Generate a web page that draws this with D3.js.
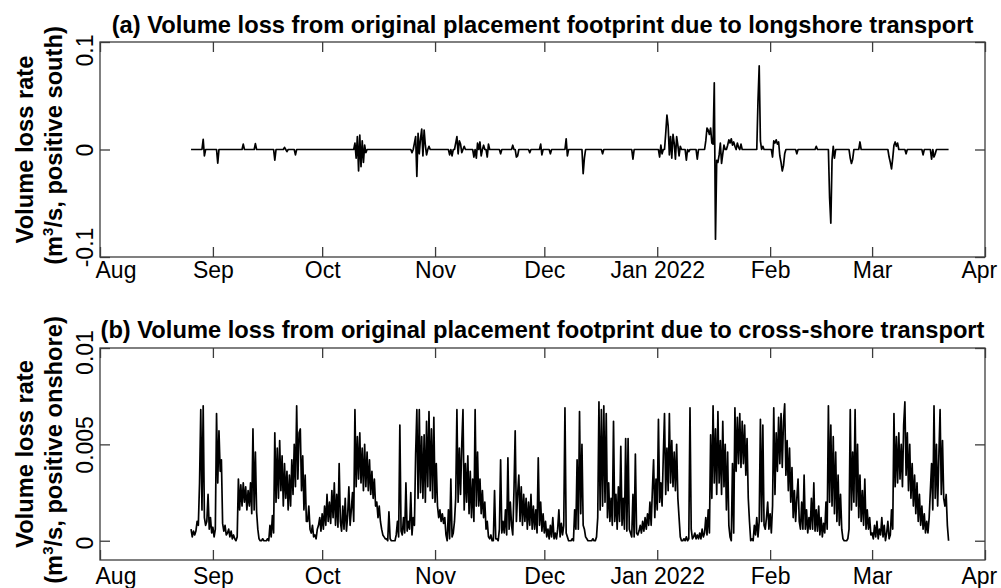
<!DOCTYPE html>
<html>
<head>
<meta charset="utf-8">
<script src="https://cdn.jsdelivr.net/npm/d3@7"></script>
<style>
  body { margin: 0; background: #fff; }
  svg { display: block; }
  text { font-family: "Liberation Sans", Arial, Helvetica, sans-serif; fill: #000; }
</style>
</head>
<body>
<svg id="chart" width="1001" height="588"></svg>
<script>
// ---------------------------------------------------------------------------
// Data
// ---------------------------------------------------------------------------
// Both records are sampled every 8 hours starting 26 Aug 2021 00:00 UTC.
const seriesStart = Date.UTC(2021, 7, 26, 0);
const stepHours = 8;

// Cross-shore volume loss rate, in units of 0.001 m^3/s (positive onshore),
// three samples per day.
const crossShore = [
  0.6,0.2,0.5, 0.3,0.5,1.0, 0.8,3.0,6.8, 1.6,7.0,1.2, 0.8,1.0,2.4, 0.6,1.2,0.4,
  0.7,0.2,0.6, 6.6,3.0,5.7, 3.6,4.2,0.9, 0.5,0.8,0.3, 0.4,0.6,0.2, 0.5,0.1,0.3,
  0.1,0.0,0.2, 3.2,1.6,2.9, 1.8,3.0,2.0, 2.8,1.6,2.6, 1.8,3.0,1.4, 5.8,1.6,4.6,
  1.5,0.6,0.1, 0.0,0.0,0.1, 0.0,0.0,0.0, 0.1,0.0,0.8, 0.2,1.3,0.4, 5.6,2.0,4.8,
  2.2,5.2,2.6, 4.4,1.8,4.0, 2.2,3.6,1.6, 3.4,1.8,4.2, 2.4,5.0,2.8, 7.0,3.2,5.6,
  5.8,2.6,4.4, 1.6,3.4,1.0, 1.0,1.8,0.6, 0.4,0.8,0.2, 0.3,0.1,0.6, 0.8,1.2,0.5,
  // October
  1.4,0.6,1.8, 0.8,2.4,1.0, 2.0,0.9,2.6, 1.2,3.0,0.8, 2.4,0.7,4.0, 1.0,0.5,1.8,
  0.6,2.2,0.5, 1.3,2.8,0.8, 1.6,2.5,1.0, 6.8,2.8,5.4, 3.2,5.6,3.0, 4.8,2.6,5.0,
  2.8,4.6,2.6, 4.2,2.4,3.6, 2.2,3.2,1.8, 2.0,1.2,1.8, 1.0,0.6,0.3, 0.2,0.1,0.1,
  0.0,1.5,0.1, 0.0,0.0,0.0, 0.0,0.3,1.0, 0.2,6.0,0.5, 0.3,1.2,0.4, 3.0,0.5,1.0,
  0.6,2.5,0.3, 1.2,0.8,4.5, 6.8,2.2,6.8, 2.5,5.4,2.2, 5.5,2.0,6.2, 2.8,6.7,2.6,
  5.8,2.2,6.4,
  // November
  2.0,4.0,1.8, 1.2,1.6,1.0, 1.4,0.9,1.2, 0.3,0.0,1.6, 0.1,3.2,0.2, 0.4,1.0,2.2,
  6.8,2.0,4.8, 2.4,5.0,6.8, 1.6,4.0,2.0, 4.4,1.4,3.6, 1.2,3.2,1.0, 6.8,1.8,4.6,
  1.8,3.2,1.4, 2.6,1.2,2.0, 0.6,1.0,0.2, 0.1,0.3,0.0, 0.0,2.6,0.1, 0.1,0.0,0.6,
  4.2,0.4,1.0, 0.4,1.6,0.3, 4.3,0.6,2.0, 0.8,0.3,2.6, 5.7,1.0,2.4, 3.4,1.0,2.8,
  0.8,2.4,1.0, 2.2,0.6,2.0, 0.8,2.4,0.6, 1.8,0.6,1.6, 0.4,4.3,0.8, 2.0,0.5,1.4,
  // December
  0.4,1.0,0.2, 0.6,0.1,0.8, 0.2,1.2,0.1, 0.4,0.1,0.6, 1.6,0.2,0.9, 0.3,0.8,6.9,
  0.4,0.2,0.0, 0.0,0.0,0.1, 0.0,1.6,0.6, 4.2,0.6,6.7, 1.4,5.0,0.8, 0.6,0.2,0.1,
  0.0,0.0,0.0, 0.0,0.1,0.0, 0.0,0.2,1.2, 7.2,1.6,6.8, 1.8,7.0,2.0, 6.6,1.2,3.0,
  1.0,2.2,0.8, 6.2,1.0,2.4, 0.6,2.8,1.0, 4.9,0.8,2.2, 0.6,5.3,0.5, 5.3,0.6,0.4,
  0.2,2.4,0.2, 4.5,0.4,0.3, 0.5,0.8,0.4, 1.0,0.5,1.2, 0.6,1.4,0.8, 2.0,0.8,2.6,
  4.2,1.2,3.2,
  // January 2022
  1.6,6.3,2.0, 3.0,1.8,4.4, 6.6,2.4,4.8, 2.6,6.6,3.0, 5.2,2.8,4.6, 2.6,5.0,2.2,
  1.2,0.2,0.0, 0.0,0.1,0.0, 0.2,0.0,0.1, 6.9,0.6,0.1, 0.2,0.4,0.1, 0.3,0.1,0.4,
  0.1,0.6,0.2, 0.4,1.2,0.3, 1.6,0.4,5.5, 2.2,7.0,3.0, 5.8,2.4,6.7, 3.0,5.2,2.4,
  6.2,2.8,5.0, 1.6,4.6,0.8, 0.2,0.0,4.0, 0.4,6.9,3.6, 6.4,4.0,6.6, 3.8,6.2,4.0,
  6.0,3.4,5.3, 2.2,1.0,0.0, 0.1,0.0,0.8, 0.3,1.2,0.2, 1.0,6.3,1.0, 6.0,0.8,0.6,
  1.2,2.0,0.6,
  // February
  1.4,0.4,1.8, 6.9,2.4,5.6, 3.6,6.4,4.0, 6.6,3.8,6.2, 7.1,3.4,5.2, 2.6,4.8,2.0,
  3.8,1.2,2.6, 1.0,2.2,3.2, 1.0,0.6,2.0, 0.6,3.4,0.6, 1.6,0.4,1.2, 0.6,2.2,0.6,
  3.0,0.5,1.6, 0.5,1.8,0.3, 1.2,0.2,0.9, 0.4,2.0,0.6, 7.0,2.0,6.0, 1.8,5.4,1.4,
  4.6,1.0,3.4, 0.8,2.4,0.6, 0.1,0.0,0.0, 0.0,0.1,0.6, 6.8,1.6,4.6, 2.0,6.8,1.8,
  5.0,1.2,3.4, 1.0,2.6,0.8, 3.2,0.6,1.6, 0.6,1.2,0.3,
  // March
  0.4,0.1,0.8, 0.2,1.0,0.1, 0.6,0.3,1.2, 0.2,0.8,0.0, 0.4,1.0,0.1, 0.3,1.6,0.6,
  6.6,2.8,5.4, 3.0,5.6,3.2, 5.0,2.8,6.0, 7.2,3.4,5.6, 2.6,5.0,2.2, 4.0,1.8,3.4,
  1.4,3.0,1.0, 2.4,0.8,1.8, 0.6,1.4,0.4, 1.0,0.4,1.2, 2.6,4.0,1.6, 7.0,2.2,5.0,
  1.8,4.4,6.8, 2.4,5.2,2.2, 1.8,2.4,0.8, 0.0
];

// Longshore volume loss rate (m^3/s, positive south): non-zero samples only,
// given as days since 1 Aug 2021; every other 8-hour sample is zero.
const longshoreDays = [
  28.33, 28.67, 32.33, 39.33, 42.67, 48.0, 50.67, 51.33, 53.67,
  70.0, 70.33, 70.67, 71.0, 71.33, 71.67, 72.0, 72.33, 72.67, 73.0,
  85.67, 86.33, 86.67, 87.0, 87.33, 87.67, 88.0, 88.33, 88.67, 89.0, 89.33, 89.67, 90.33,
  96.0, 96.67, 97.67, 98.0, 98.33, 98.67, 99.0, 99.33, 100.0,
  102.67, 103.33, 103.67, 104.33, 104.67, 105.33, 106.33, 106.67,
  110.0, 113.33, 114.33, 114.67, 118.0, 121.0, 121.33, 123.67, 128.0, 128.33,
  132.67, 133.0, 138.0, 146.33,
  153.67, 154.0, 154.33, 155.33, 155.67, 156.0, 156.33, 156.67, 157.0, 157.33,
  157.67, 158.0, 158.33, 158.67, 159.0, 159.33, 161.0, 161.67, 164.0,
  166.33, 166.67, 167.0, 167.33, 167.67, 168.0, 168.33, 168.67, 169.0, 169.33,
  169.67, 170.0, 170.33, 170.67, 171.0, 171.33, 172.33, 172.67, 173.0, 173.33,
  173.67, 174.0, 174.33, 175.0, 175.33, 176.0,
  180.67, 181.0, 181.33, 182.0,
  184.67, 185.0, 185.33, 185.67, 186.0, 186.33, 186.67, 187.0, 187.33, 187.67, 188.0,
  191.33, 196.67, 200.33, 200.67, 201.0, 201.33, 201.67,
  206.0, 206.33, 206.67, 208.67,
  216.67, 217.0, 217.33, 217.67, 218.0, 218.33, 218.67, 219.0,
  221.33, 226.0, 228.33, 229.0, 229.33
];
const longshoreValues = [
  0.0095, -0.006, -0.0127, 0.005, 0.0055, -0.0098, 0.002, -0.002, -0.005,
  0.006, -0.008, 0.012, -0.02, 0.0135, -0.016, 0.008, -0.012, 0.004, -0.003,
  -0.003, 0.006, 0.012, -0.025, 0.015, -0.004, 0.01, 0.019, -0.006, 0.018, 0.004, -0.005, 0.003,
  -0.005, -0.006, 0.006, 0.012, -0.004, 0.008, 0.005, -0.003, 0.003,
  -0.007, -0.008, 0.006, 0.007, -0.006, 0.004, -0.007, 0.005,
  -0.004, 0.004, -0.007, -0.006, -0.003, 0.005, -0.005, -0.004, 0.01, -0.006,
  -0.0225, -0.008, -0.004, -0.009,
  -0.007, 0.004, -0.004, 0.015, 0.032, 0.022, -0.005, 0.012, -0.008, 0.014,
  0.006, -0.009, 0.012, 0.004, -0.006, 0.003, -0.01, -0.002, -0.009,
  0.008, 0.02, 0.018, 0.014, 0.02, 0.006, 0.005, 0.062, -0.0835, -0.01,
  -0.012, -0.005, 0.006, -0.013, -0.004, 0.004, 0.004, 0.009, 0.006, 0.01,
  0.004, 0.007, 0.003, 0.006, 0.002, 0.005,
  0.045, 0.0777, 0.008, 0.003,
  -0.007, 0.008, 0.006, 0.009, 0.005, 0.007, -0.006, -0.012, -0.02, -0.015, -0.004,
  -0.004, 0.003, -0.045, -0.0685, -0.01, 0.003, -0.008,
  -0.008, -0.013, -0.009, 0.007,
  -0.007, -0.012, -0.018, -0.008, 0.004, 0.007, 0.003, 0.006,
  -0.004, -0.005, -0.009, -0.007, -0.004
];

// Month ticks shared by both panels
const monthTicks = [
  Date.UTC(2021, 7, 1), Date.UTC(2021, 8, 1), Date.UTC(2021, 9, 1),
  Date.UTC(2021, 10, 1), Date.UTC(2021, 11, 1), Date.UTC(2022, 0, 1),
  Date.UTC(2022, 1, 1), Date.UTC(2022, 2, 1), Date.UTC(2022, 3, 1)
].map(d => new Date(d));
const monthLabels = ["Aug", "Sep", "Oct", "Nov", "Dec", "Jan 2022", "Feb", "Mar", "Apr"];

const longshoreTicks = [-0.1, 0, 0.1];
const longshoreTickLabels = ["-0.1", "0", "0.1"];
const crossShoreTicks = [0, 0.005, 0.01];
const crossShoreTickLabels = ["0", "0.005", "0.01"];

// ---------------------------------------------------------------------------
// Series tables
// ---------------------------------------------------------------------------
const msPerStep = stepHours * 3600 * 1000;
const originDay = Date.UTC(2021, 7, 1);
const startDay = (seriesStart - originDay) / 86400000;

const crossSeries = crossShore.map((v, i) => ({
  t: new Date(seriesStart + i * msPerStep),
  v: v * 0.001
}));

const longshoreByStep = new Map(
  longshoreDays.map((d, i) => [Math.round((d - startDay) * 24 / stepHours), longshoreValues[i]])
);
const longSeries = crossShore.map((_, i) => ({
  t: new Date(seriesStart + i * msPerStep),
  v: longshoreByStep.has(i) ? longshoreByStep.get(i) : 0
}));

// ---------------------------------------------------------------------------
// Drawing
// ---------------------------------------------------------------------------
const svg = d3.select("#chart");
const plotLeft = 100, plotRight = 985;
const axisColor = "#3c3c3c";
const tickFont = 23;
const boldFont = 23.7;

const x = d3.scaleUtc()
  .domain([monthTicks[0], monthTicks[monthTicks.length - 1]])
  .range([plotLeft, plotRight]);

const panels = [
  {
    series: longSeries,
    domain: [-0.1, 0.1],
    ticks: longshoreTicks,
    tickLabels: longshoreTickLabels,
    top: 42, bottom: 257,
    xLabelPad: 5,
    labelNudge: [-10, 0, 8],
    title: "(a) Volume loss from original placement footprint due to longshore transport",
    titleY: 33,
    yLabel2: "/s, positive south)"
  },
  {
    series: crossSeries,
    domain: [-0.001, 0.01],
    ticks: crossShoreTicks,
    tickLabels: crossShoreTickLabels,
    top: 348, bottom: 560,
    xLabelPad: 7.5,
    labelNudge: [2, 0, 4],
    title: "(b) Volume loss from original placement footprint due to cross-shore transport",
    titleY: 338,
    yLabel2: "/s, positive onshore)"
  }
];

panels.forEach(p => {
  const y = d3.scaleLinear().domain(p.domain).range([p.bottom, p.top]);
  const g = svg.append("g");

  // data line
  g.append("path")
    .datum(p.series)
    .attr("fill", "none")
    .attr("stroke", "#000")
    .attr("stroke-width", 1.7)
    .attr("stroke-linejoin", "round")
    .attr("d", d3.line().x(d => x(d.t)).y(d => y(d.v)));

  // bottom axis with month labels, ticks pointing inward
  const bottomAxis = g.append("g")
    .attr("transform", `translate(0,${p.bottom})`)
    .call(d3.axisBottom(x)
      .tickValues(monthTicks)
      .tickFormat((d, i) => monthLabels[i])
      .tickSize(-10)
      .tickPadding(p.xLabelPad));
  bottomAxis.selectAll("text")
    .attr("font-size", tickFont)
    .attr("font-family", "Liberation Sans, Arial, sans-serif");
  // keep the outermost labels inside the figure
  bottomAxis.selectAll(".tick").each(function (d) {
    const t = d3.select(this).select("text");
    const bb = t.node().getBBox();
    const cx = x(d);
    let shift = 0;
    if (cx + bb.x < 95) shift = 95 - (cx + bb.x);
    if (cx + bb.x + bb.width > 997) shift = 997 - (cx + bb.x + bb.width);
    t.attr("x", shift);
  });

  // top axis: ticks only
  g.append("g")
    .attr("transform", `translate(0,${p.top})`)
    .call(d3.axisTop(x).tickValues(monthTicks).tickFormat("").tickSize(-10));

  // left axis with rotated labels
  const leftAxis = g.append("g")
    .attr("transform", `translate(${plotLeft},0)`)
    .call(d3.axisLeft(y)
      .tickValues(p.ticks)
      .tickFormat((d, i) => p.tickLabels[i])
      .tickSize(-10));
  leftAxis.selectAll("text")
    .attr("font-size", tickFont)
    .attr("text-anchor", "middle")
    .attr("x", 0).attr("y", 0).attr("dy", 0)
    .attr("transform", (d, i) => `translate(-7,${p.labelNudge[i]}) rotate(-90)`);

  // right axis: ticks only
  g.append("g")
    .attr("transform", `translate(${plotRight},0)`)
    .call(d3.axisRight(y).tickValues(p.ticks).tickFormat("").tickSize(-10));

  g.selectAll(".domain").remove();
  g.selectAll(".tick line").attr("stroke", axisColor).attr("stroke-width", 1.3);

  // frame
  g.append("rect")
    .attr("x", plotLeft).attr("y", p.top)
    .attr("width", plotRight - plotLeft).attr("height", p.bottom - p.top)
    .attr("fill", "none").attr("stroke", axisColor).attr("stroke-width", 1.3);

  // title
  g.append("text")
    .attr("x", (plotLeft + plotRight) / 2).attr("y", p.titleY)
    .attr("text-anchor", "middle")
    .attr("font-size", boldFont).attr("font-weight", "bold")
    .text(p.title);

  // y-axis label, two lines
  const cy = (p.top + p.bottom) / 2;
  g.append("text")
    .attr("transform", `translate(33,${cy}) rotate(-90)`)
    .attr("text-anchor", "middle")
    .attr("font-size", boldFont).attr("font-weight", "bold")
    .text("Volume loss rate");
  const l2 = g.append("text")
    .attr("transform", `translate(62,${cy - 4}) rotate(-90)`)
    .attr("text-anchor", "middle")
    .attr("font-size", boldFont).attr("font-weight", "bold");
  l2.append("tspan").text("(m");
  l2.append("tspan").attr("font-size", 15).attr("dy", -9).text("3");
  l2.append("tspan").attr("dy", 9).text(p.yLabel2);
});
</script>
</body>
</html>
